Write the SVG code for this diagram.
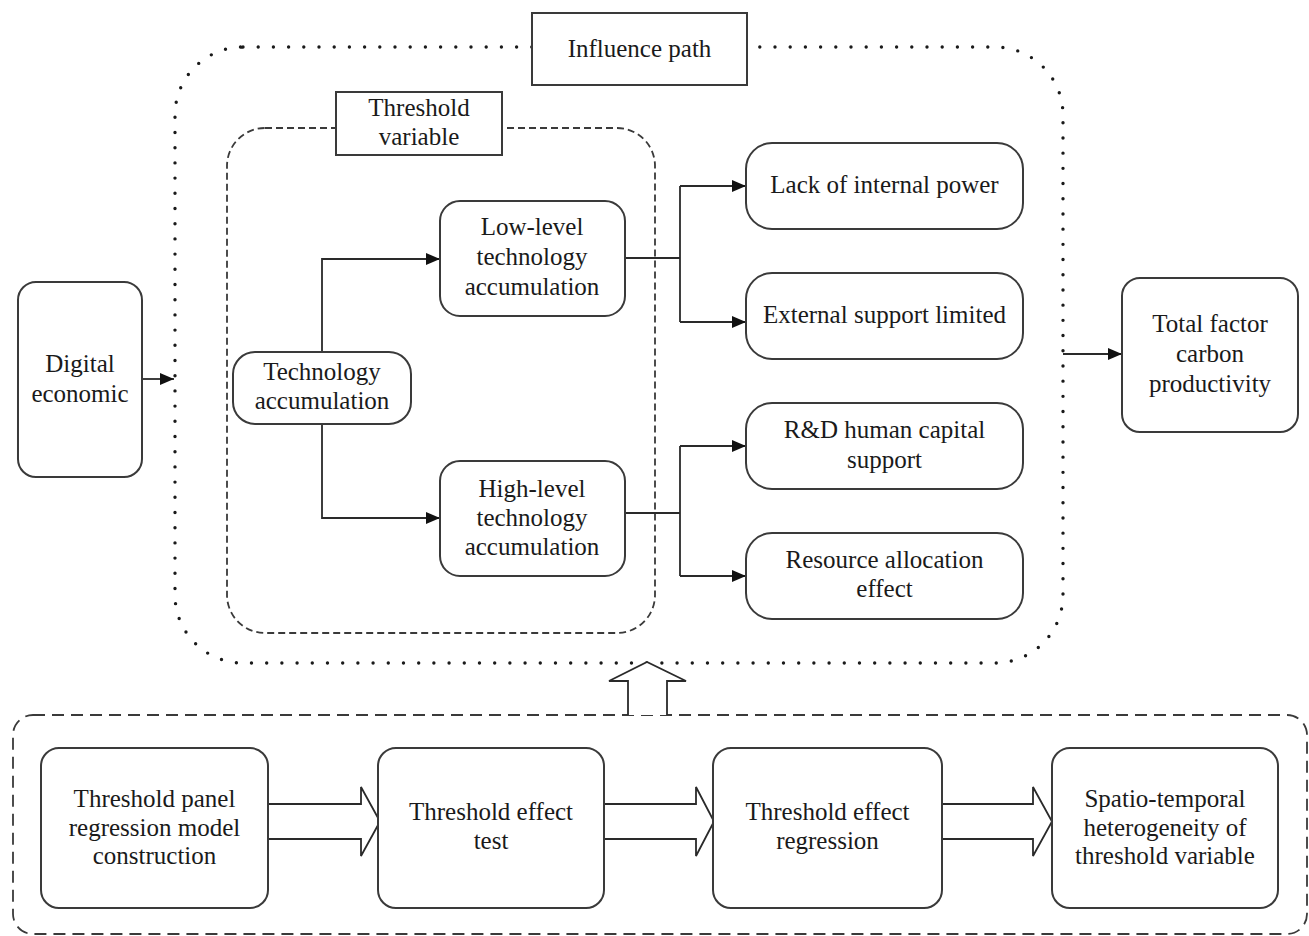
<svg xmlns="http://www.w3.org/2000/svg" width="1309" height="936" viewBox="0 0 1309 936">
<style>
.box{fill:#fff;stroke:#3a3a3a;stroke-width:2}
.lbl{fill:#fff;stroke:#3a3a3a;stroke-width:2}
.t{font-family:"Liberation Serif","Times New Roman",Times,"DejaVu Serif",serif;font-size:25px;fill:#1a1a1a;text-anchor:middle}
.con{fill:none;stroke:#2a2a2a;stroke-width:1.8}
.dot{fill:none;stroke:#1a1a1a;stroke-width:3.4;stroke-dasharray:0 15.2;stroke-linecap:round}
.dash1{fill:none;stroke:#3a3a3a;stroke-width:1.8;stroke-dasharray:7 4}
.dash2{fill:none;stroke:#3a3a3a;stroke-width:1.8;stroke-dasharray:12 7}
.blk{fill:#fff;stroke:#2a2a2a;stroke-width:1.8;stroke-linejoin:miter}
</style>
<defs>
<marker id="ah" markerUnits="userSpaceOnUse" markerWidth="15" markerHeight="13" refX="14" refY="6" orient="auto">
<path d="M0,0 L14,6 L0,12 z" fill="#111"/>
</marker>
</defs>
<rect width="1309" height="936" fill="#fff"/>

<g id="containers">
<rect class="dot" x="175" y="47" width="888" height="616" rx="68"/>
<rect class="dash1" x="227" y="128" width="428" height="505" rx="38"/>
<rect class="dash2" x="13" y="715" width="1294" height="219" rx="20"/>
</g>

<g id="connectors">
<path class="con" d="M142 379 H174" marker-end="url(#ah)"/>
<path class="con" d="M322 352 V259 H440" marker-end="url(#ah)"/>
<path class="con" d="M322 424 V518 H440" marker-end="url(#ah)"/>
<path class="con" d="M625 258 H680"/>
<path class="con" d="M680 186 V322"/>
<path class="con" d="M680 186 H746" marker-end="url(#ah)"/>
<path class="con" d="M680 322 H746" marker-end="url(#ah)"/>
<path class="con" d="M625 513 H680"/>
<path class="con" d="M680 446 V576"/>
<path class="con" d="M680 446 H746" marker-end="url(#ah)"/>
<path class="con" d="M680 576 H746" marker-end="url(#ah)"/>
<path class="con" d="M1063 354 H1122" marker-end="url(#ah)"/>
<path class="blk" d="M268 804 H361 V787 L380 821.5 L361 856 V839 H268"/>
<path class="blk" d="M604 804 H696 V787 L714 821.5 L696 856 V839 H604"/>
<path class="blk" d="M942 804 H1033 V787 L1052 821.5 L1033 856 V839 H942"/>
<path class="blk" d="M628 715 V681 H609 L647 662 L686 681 H667 V715"/>
</g>

<g id="influence-path">
<rect class="lbl" x="532" y="13" width="215" height="72"/>
<text class="t" x="639.5" y="57">Influence path</text>
</g>
<g id="threshold-variable">
<rect class="lbl" x="336" y="92" width="166" height="63"/>
<text class="t" x="419" y="116">Threshold</text>
<text class="t" x="419" y="145">variable</text>
</g>

<g id="digital-economic">
<rect class="box" x="18" y="282" width="124" height="195" rx="18"/>
<text class="t" x="80" y="372">Digital</text>
<text class="t" x="80" y="402">economic</text>
</g>
<g id="technology-accumulation">
<rect class="box" x="233" y="352" width="178" height="72" rx="22"/>
<text class="t" x="322" y="380">Technology</text>
<text class="t" x="322" y="409">accumulation</text>
</g>
<g id="low-level">
<rect class="box" x="440" y="201" width="185" height="115" rx="20"/>
<text class="t" x="532" y="235">Low-level</text>
<text class="t" x="532" y="265">technology</text>
<text class="t" x="532" y="295">accumulation</text>
</g>
<g id="high-level">
<rect class="box" x="440" y="461" width="185" height="115" rx="20"/>
<text class="t" x="532" y="497">High-level</text>
<text class="t" x="532" y="526">technology</text>
<text class="t" x="532" y="555">accumulation</text>
</g>
<g id="lack-internal-power">
<rect class="box" x="746" y="143" width="277" height="86" rx="26"/>
<text class="t" x="884.5" y="193">Lack of internal power</text>
</g>
<g id="external-support">
<rect class="box" x="746" y="273" width="277" height="86" rx="26"/>
<text class="t" x="884.5" y="323">External support limited</text>
</g>
<g id="rd-human-capital">
<rect class="box" x="746" y="403" width="277" height="86" rx="26"/>
<text class="t" x="884.5" y="438">R&amp;D human capital</text>
<text class="t" x="884.5" y="468">support</text>
</g>
<g id="resource-allocation">
<rect class="box" x="746" y="533" width="277" height="86" rx="26"/>
<text class="t" x="884.5" y="568">Resource allocation</text>
<text class="t" x="884.5" y="597">effect</text>
</g>
<g id="total-factor">
<rect class="box" x="1122" y="278" width="176" height="154" rx="18"/>
<text class="t" x="1210" y="332">Total factor</text>
<text class="t" x="1210" y="362">carbon</text>
<text class="t" x="1210" y="392">productivity</text>
</g>

<g id="step1">
<rect class="box" x="41" y="748" width="227" height="160" rx="18"/>
<text class="t" x="154.5" y="807">Threshold panel</text>
<text class="t" x="154.5" y="836">regression model</text>
<text class="t" x="154.5" y="864">construction</text>
</g>
<g id="step2">
<rect class="box" x="378" y="748" width="226" height="160" rx="18"/>
<text class="t" x="491" y="820">Threshold effect</text>
<text class="t" x="491" y="849">test</text>
</g>
<g id="step3">
<rect class="box" x="713" y="748" width="229" height="160" rx="18"/>
<text class="t" x="827.5" y="820">Threshold effect</text>
<text class="t" x="827.5" y="849">regression</text>
</g>
<g id="step4">
<rect class="box" x="1052" y="748" width="226" height="160" rx="18"/>
<text class="t" x="1165" y="807">Spatio-temporal</text>
<text class="t" x="1165" y="836">heterogeneity of</text>
<text class="t" x="1165" y="864">threshold variable</text>
</g>
</svg>
